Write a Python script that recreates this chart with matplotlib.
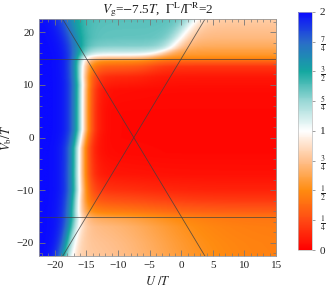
import numpy as np
import matplotlib
matplotlib.use("Agg")
import matplotlib.pyplot as plt
from matplotlib.colors import LinearSegmentedColormap

plt.rcParams['font.family'] = ['Liberation Serif', 'DejaVu Serif']
plt.rcParams['mathtext.fontset'] = 'stix'

# --- data ---
u_range = [-22.5, 15.0]
vb_range = [-22.5, 22.5]

# left edge of the non-blue region (half-way point) along Vb
edge_vb = [-22.5, -20.0, -17.0, -15.0, -10.0, -2.0, 1.5, 10.0, 15.0, 17.0, 20.0, 22.5]
edge_u = [-18.4, -17.9, -17.3, -16.9, -16.3, -16.2, -15.7, -15.7, -16.1, -16.6, -17.3, -17.9]
edge_w = [0.75, 0.75, 0.8, 0.85, 0.85, 0.85, 0.85, 0.85, 0.85, 0.95, 1.05, 1.15]

# vertical profiles: left column (between the lines) and right column
prof_vb = [-22.5, -20.0, -17.0, -15.5, -15.0, -14.0, -12.0, -10.0, -7.0, -3.0, 0.0,
           5.0, 9.0, 11.5, 13.5, 14.5, 15.2, 15.8, 16.5, 17.5, 19.0, 22.5]
left_prof = [0.82, 0.80, 0.76, 0.68, 0.58, 0.46, 0.30, 0.18, 0.08, 0.04, 0.03,
             0.03, 0.05, 0.14, 0.33, 0.50, 0.78, 1.03, 1.18, 1.30, 1.35, 1.37]
right_prof = [0.45, 0.45, 0.44, 0.42, 0.40, 0.32, 0.20, 0.12, 0.06, 0.03, 0.03,
              0.03, 0.04, 0.08, 0.18, 0.35, 0.50, 0.56, 0.60, 0.66, 0.72, 0.80]

# where left column turns into right column
split_vb = [-22.5, -15.0, 0.0, 15.0, 17.0, 20.0, 22.5]
split_u = [-3.0, -4.0, -8.0, -4.5, -1.5, 0.3, 1.8]
split_w = [5.0, 4.0, 2.0, 1.2, 1.0, 1.0, 1.0]

# colour scale
cb_levels = [0, 0.25, 0.5, 0.75, 1.0, 1.25, 1.5, 1.75, 2.0]
cb_colors = ['#ff0000', '#ff4a14', '#ff8c10', '#ffc08e', '#ffffff',
             '#9ad8d6', '#14a8a0', '#2a6cc8', '#0a0aff']
cb_labels = ['0', r'$\frac{1}{4}$', r'$\frac{1}{2}$', r'$\frac{3}{4}$', '1',
             r'$\frac{5}{4}$', r'$\frac{3}{2}$', r'$\frac{7}{4}$', '2']

# guide lines
hlines_vb = [-15.0, 15.0]
cross_u, cross_vb = -7.5, 0.0

# --- build the field ---
u = np.linspace(u_range[0], u_range[1], 400)
vb = np.linspace(vb_range[0], vb_range[1], 400)
U, VB = np.meshgrid(u, vb)


def sig(x):
    return 1.0 / (1.0 + np.exp(-x))


L = np.interp(VB, prof_vb, left_prof)
R = np.interp(VB, prof_vb, right_prof)
s = sig((U - np.interp(VB, split_vb, split_u)) / np.interp(VB, split_vb, split_w))
base = L * (1 - s) + R * s
b = sig((np.interp(VB, edge_vb, edge_u) - U) / np.interp(VB, edge_vb, edge_w))
Z = base + (2.0 - base) * b

cmap = LinearSegmentedColormap.from_list(
    'g', [(lv / 2.0, c) for lv, c in zip(cb_levels, cb_colors)])

fig = plt.figure(figsize=(3.32, 2.95), dpi=100)
ax = fig.add_axes([0.1175, 0.132, 0.714, 0.803])
im = ax.imshow(Z, origin='lower', extent=[u_range[0], u_range[1], vb_range[0], vb_range[1]],
               aspect='auto', cmap=cmap, vmin=0, vmax=2, interpolation='bilinear')

lc = '#404040'
for h in hlines_vb:
    ax.axhline(h, color=lc, lw=0.6, alpha=0.8)
ax.plot([cross_u - vb_range[1] / 2, cross_u + vb_range[1] / 2], [vb_range[1], vb_range[0]],
        color=lc, lw=0.6, alpha=0.8)
ax.plot([cross_u + vb_range[0] / 2, cross_u - vb_range[0] / 2], [vb_range[0], vb_range[1]],
        color=lc, lw=0.6, alpha=0.8)
ax.set_xlim(u_range)
ax.set_ylim(vb_range)

ax.set_xticks([-20, -15, -10, -5, 0, 5, 10, 15])
ax.set_xticks(np.arange(-22, 16, 1), minor=True)
ax.set_yticks([-20, -10, 0, 10, 20])
ax.set_yticks(np.arange(-22, 23, 2), minor=True)
ax.set_xticklabels(['\u221220', '\u221215', '\u221210', '\u22125', '0', '5', '10', '15'])
ax.set_yticklabels(['\u221220', '\u221210', '0', '10', '20'])
ax.tick_params(which='both', direction='in', top=True, right=True, colors='#777777',
               labelcolor='#222222', labelsize=8)
ax.tick_params(which='major', length=4, width=0.6)
ax.tick_params(which='minor', length=2, width=0.5)
for sp in ax.spines.values():
    sp.set_color('#999999')
    sp.set_linewidth(0.6)

ax.set_xlabel(r'$U\ /T$', fontsize=9, color='#222222')
ax.set_ylabel(r'$V_\mathrm{b}/T$', fontsize=9, color='#222222', labelpad=2)
ax.set_title(r'$V_\mathrm{g}$=$-$7.5$T$,  $\Gamma^\mathrm{L}/\Gamma^\mathrm{R}$=2',
             fontsize=9.5, pad=2, color='#222222')

cax = fig.add_axes([0.898, 0.1525, 0.042, 0.807])
cb = fig.colorbar(im, cax=cax, ticks=cb_levels)
cb.ax.set_yticklabels(cb_labels)
cb.ax.tick_params(labelsize=8, length=2, width=0.5, colors='#777777', labelcolor='#222222')
cb.outline.set_edgecolor('#bbbbbb')
cb.outline.set_linewidth(0.5)

fig.savefig('out.png', dpi=100)
